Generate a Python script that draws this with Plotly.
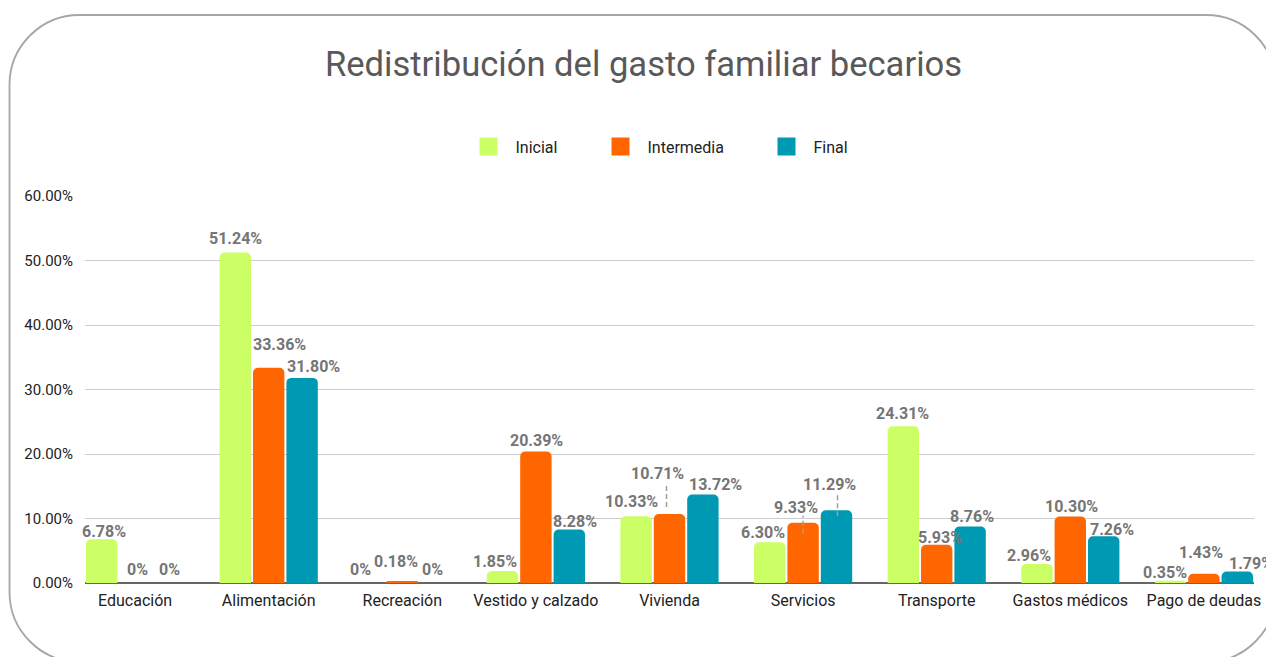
import plotly.graph_objects as go

# ---------------- data ----------------
categories = ["Educación", "Alimentación", "Recreación", "Vestido y calzado", "Vivienda",
              "Servicios", "Transporte", "Gastos médicos", "Pago de deudas"]
inicial = [6.78, 51.24, 0, 1.85, 10.33, 6.30, 24.31, 2.96, 0.35]
intermedia = [0, 33.36, 0.18, 20.39, 10.71, 9.33, 5.93, 10.30, 1.43]
final = [0, 31.80, 0, 8.28, 13.72, 11.29, 8.76, 7.26, 1.79]
series_names = ["Inicial", "Intermedia", "Final"]
y_ticks = [0, 10, 20, 30, 40, 50, 60]

# ---------------- style ----------------
colors = ["#ccff66", "#ff6600", "#0099b3"]
FONT = "Roboto"
W, H = 1266, 657
PL, PR, PT, PB = 85, 1254, 196, 583   # plot area in px

# label offsets (px): horizontal shift from bar centre, height of label centre above bar top
lab_dx = [
    [2, 0, -8, -8, -5, -7, -1, -8, -6],
    [2, 11, -6, 1, -12, -7, 3, 1, -3],
    [1, 11, -3, 6, 13, -7, 2, 8, 14],
]
lab_dy = [
    [8, 14, 14, 10, 15, 10, 13, 8, 8],
    [14, 23, 20, 11, 40, 15, 7, 10, 21],
    [14, 11, 14, 8, 10, 26, 10, 7, 8],
]
# leader lines: (series index, category index, dx px, y0 px, y1 px relative to bar top)
leaders = [(1, 4, -3, 7, 30), (1, 5, 0, -11, 7), (2, 5, 1, -6, 17)]

series = [inicial, intermedia, final]
slot = 0.75 / 3
xs = list(range(len(categories)))

fig = go.Figure()
for j, (name, vals) in enumerate(zip(series_names, series)):
    fig.add_trace(go.Bar(
        x=xs, y=vals, name=name, marker=dict(color=colors[j], line=dict(width=0)),
        showlegend=False, hoverinfo="skip",
    ))
# legend entries (bigger square symbols)
for j, name in enumerate(series_names):
    fig.add_trace(go.Scatter(
        x=[None], y=[None], mode="markers", name=name,
        marker=dict(symbol="square", size=16, color=colors[j], line=dict(color=colors[j], width=2)),
        legend="legend" if j == 0 else f"legend{j+1}", showlegend=True,
    ))


def fmt(v):
    return "0%" if v == 0 else f"{v:.2f}%"


annotations = []
for j, vals in enumerate(series):
    for i, v in enumerate(vals):
        annotations.append(dict(
            x=i + (j - 1) * slot, y=v, xref="x", yref="y", text=fmt(v), showarrow=False,
            xanchor="center", yanchor="middle", xshift=lab_dx[j][i], yshift=lab_dy[j][i],
            font=dict(family=FONT, size=16, color="#757575", weight="bold"),
        ))

shapes = []
for (j, i, dx, y0, y1) in leaders:
    shapes.append(dict(
        type="line", xref="x", yref="y", xsizemode="pixel", ysizemode="pixel",
        xanchor=i + (j - 1) * slot, yanchor=series[j][i], x0=dx, x1=dx, y0=y0, y1=y1,
        line=dict(color="#9e9e9e", width=1.5, dash="5px,3px"), layer="above",
    ))

# rounded border of the card (decoration), in paper coordinates
def fx(px):
    return (px - PL) / (PR - PL)


def fy(py):
    return (PB - py) / (PB - PT)


L, T, R, B, r = 9.5, 15, 1276, 662, 70
k = 0.5523 * r
pts = [
    ("M", [(L, T + r)]),
    ("C", [(L, T + r - k), (L + r - k, T), (L + r, T)]),
    ("L", [(R - r, T)]),
    ("C", [(R - r + k, T), (R, T + r - k), (R, T + r)]),
    ("L", [(R, B - r)]),
    ("C", [(R, B - r + k), (R - r + k, B), (R - r, B)]),
    ("L", [(L + r, B)]),
    ("C", [(L + r - k, B), (L, B - r + k), (L, B - r)]),
]
path = " ".join(cmd + " ".join(f"{fx(a):.5f},{fy(b):.5f}" for a, b in p) for cmd, p in pts) + " Z"
shapes.append(dict(type="path", xref="paper", yref="paper", path=path,
                   line=dict(color="#a6a6a6", width=1.8), layer="below"))

ITEMW = 44
leg_common = dict(orientation="h", yanchor="middle", y=fy(146.5), xanchor="left",
                  bgcolor="rgba(0,0,0,0)", font=dict(family=FONT, size=16, color="#222222"),
                  itemwidth=ITEMW, itemclick=False, itemdoubleclick=False)
leg_sq_centers = [487.5, 619.5, 785.5]
leg_off = ITEMW / 2 + 4

fig.update_layout(
    width=W, height=H,
    margin=dict(l=PL, r=W - PR, t=PT, b=H - PB, autoexpand=False),
    paper_bgcolor="white", plot_bgcolor="white",
    barmode="group", bargap=0.25, bargroupgap=0.06, barcornerradius=5,
    title=dict(text="Redistribución del gasto familiar becarios", x=643.5 / W, xanchor="center",
               xref="container", y=1 - 64 / H, yanchor="middle", yref="container",
               font=dict(family=FONT, size=34.6, color="#595959")),
    xaxis=dict(range=[-0.375, 8.375], tickmode="array", tickvals=xs, ticktext=categories,
               showgrid=False, zeroline=False, showline=False, ticks="", ticklabelstandoff=6,
               tickfont=dict(family=FONT, size=16, color="#222222"), fixedrange=True),
    yaxis=dict(range=[0, 60], tickmode="array", tickvals=y_ticks,
               ticktext=[f"{t:.2f}%" for t in y_ticks],
               showgrid=True, gridcolor="#cccccc", gridwidth=1,
               zeroline=True, zerolinecolor="#666666", zerolinewidth=1.5,
               showline=False, ticks="", ticklabelstandoff=11,
               tickfont=dict(family=FONT, size=15, color="#222222"), fixedrange=True),
    legend=dict(x=fx(leg_sq_centers[0] - leg_off), **leg_common),
    legend2=dict(x=fx(leg_sq_centers[1] - leg_off), **leg_common),
    legend3=dict(x=fx(leg_sq_centers[2] - leg_off), **leg_common),
    annotations=annotations,
    shapes=shapes,
    showlegend=True,
)

fig.write_html("out.html", config={"displayModeBar": False},
               post_script="document.body.style.margin='0';document.body.style.overflow='hidden';")
